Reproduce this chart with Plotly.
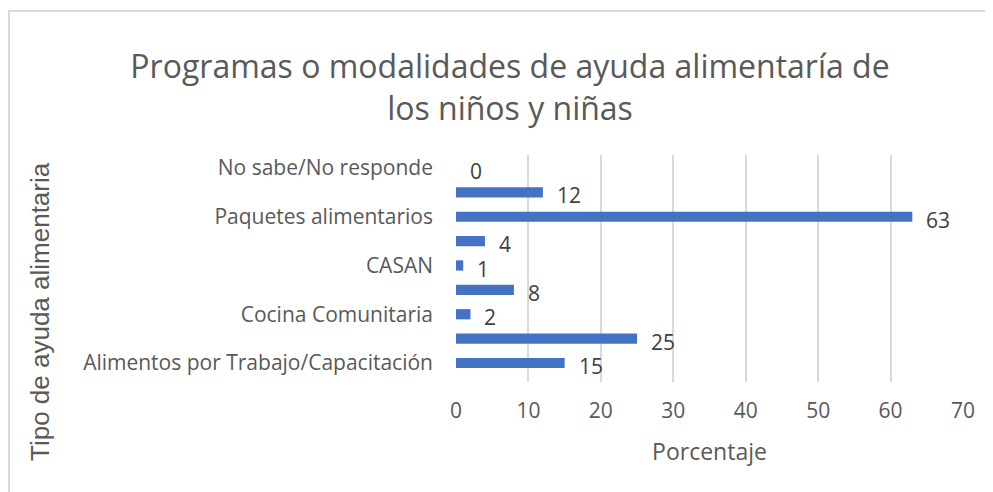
import plotly.graph_objects as go

# Data (bottom to top as drawn)
categories = [
    "Alimentos por Trabajo/Capacitación",
    "Otro programa A",
    "Cocina Comunitaria",
    "Otro programa B",
    "CASAN",
    "Otro programa C",
    "Paquetes alimentarios",
    "Otro programa D",
    "No sabe/No responde",
]
values = [15, 25, 2, 8, 1, 4, 63, 12, 0]
shown_labels = [
    "Alimentos por Trabajo/Capacitación",
    "Cocina Comunitaria",
    "CASAN",
    "Paquetes alimentarios",
    "No sabe/No responde",
]
x_ticks = [0, 10, 20, 30, 40, 50, 60, 70]

FONT = "Open Sans"
GRAY = "#595959"
OFF = 8  # page body margin offset
W, H = 993 - OFF, 492 - OFF
L, R, T, B = 456 - OFF, 30, 155 - OFF, 110
pw, ph = W - L - R, H - T - B

def px_x(p):  # reference pixel -> paper
    return (p - OFF - L) / pw

def px_y(p):
    return (H - B - (p - OFF)) / ph

fig = go.Figure()
fig.add_trace(go.Bar(
    x=values, y=categories, orientation="h",
    marker=dict(color="#4472C4", line=dict(width=0)),
    width=0.42,
    hoverinfo="x+y",
))

for c, v in zip(categories, values):
    fig.add_annotation(x=v, y=c, xref="x", yref="y", text=str(v),
                       showarrow=False, xanchor="left", xshift=12, yshift=-3,
                       font=dict(family=FONT, size=21, color="#404040"))

# y-axis title
fig.add_annotation(x=px_x(40), y=px_y(312), xref="paper", yref="paper",
                   text="Tipo de ayuda alimentaria", textangle=-90,
                   showarrow=False, xanchor="center", yanchor="middle",
                   font=dict(family="Liberation Sans", size=26, color=GRAY))

# chart border
fig.add_shape(type="rect", xref="paper", yref="paper",
              x0=px_x(9), x1=px_x(1010), y0=px_y(510), y1=px_y(11),
              line=dict(color="#d9d9d9", width=2), layer="below")

fig.update_layout(
    width=W, height=H,
    margin=dict(l=L, r=R, t=T, b=B),
    paper_bgcolor="white", plot_bgcolor="white",
    showlegend=False,
    title=dict(
        text="Programas o modalidades de ayuda alimentaría de<br>los niños y niñas",
        x=(510 - OFF) / W, xanchor="center", y=1 - (78 - OFF) / H, yanchor="middle",
        yref="container", xref="container",
        font=dict(family=FONT, size=32, color=GRAY),
    ),
    xaxis=dict(
        range=[0, 70], tickvals=x_ticks, showgrid=True, gridcolor="#d9d9d9",
        gridwidth=1.5, zeroline=False, showline=False,
        tickfont=dict(family=FONT, size=21, color=GRAY),
        title=dict(text="Porcentaje", font=dict(family=FONT, size=23, color=GRAY), standoff=20),
        ticks="", ticklabelstandoff=14, fixedrange=True,
    ),
    yaxis=dict(
        type="category", categoryorder="array", categoryarray=categories,
        tickmode="array", tickvals=shown_labels, ticktext=shown_labels,
        showgrid=False, zeroline=False, showline=False, ticks="",
        tickfont=dict(family=FONT, size=21, color=GRAY),
        ticklabelstandoff=22, fixedrange=True,
    ),
)

fig.write_html("out.html")
